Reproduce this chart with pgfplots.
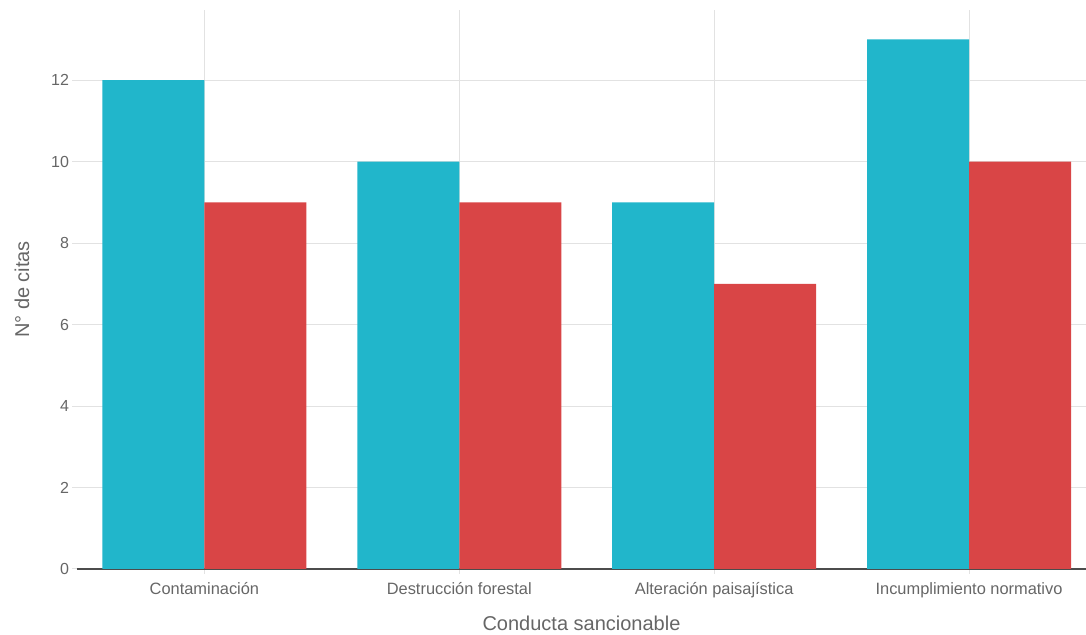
\documentclass[border=0pt]{standalone}
\usepackage{fontspec}
\setmainfont{Liberation Sans}
\usepackage{pgfplots}
\pgfplotsset{compat=1.18}
\definecolor{teal1}{HTML}{21B6CB}
\definecolor{red1}{HTML}{D94546}
\definecolor{txt}{HTML}{666666}
\definecolor{gridc}{HTML}{E2E2E2}
\begin{document}
\begin{tikzpicture}
\begin{axis}[
  name=ax,
  scale only axis,
  width=504.5pt, height=279.5pt,
  ybar=0pt, bar width=51pt,
  xmin=-0.5, xmax=3.459,
  ymin=0, ymax=13.72,
  xtick=data,
  xticklabels={Contaminación,Destrucción forestal,Alteración paisajística,Incumplimiento normativo},
  ytick={0,2,4,6,8,10,12},
  grid=major,
  major grid style={gridc, line width=0.5pt},
  axis x line*=bottom, axis y line*=left,
  x axis line style={-, draw=black!70, line width=0.6pt},
  y axis line style={draw=none},
  tick align=outside,
  major tick length=2.5pt,
  tick style={gridc, line width=0.5pt},
  /pgf/number format/assume math mode=true,
  ticklabel style={font=\fontsize{8}{9}\selectfont, text=txt},
  yticklabel style={xshift=2pt},
  xticklabel style={font=\fontsize{8.2}{9}\selectfont, text height=1.6ex, text depth=0.4ex, yshift=1.5pt},
  xlabel={Conducta sancionable},
  ylabel={N° de citas},
  label style={font=\fontsize{10}{12}\selectfont, text=txt},
  xlabel style={yshift=-1.5pt},
  ylabel style={yshift=4pt},
]
\addplot[fill=teal1, draw=none] coordinates {(0,12) (1,10) (2,9) (3,13)};
\addplot[fill=red1, draw=none] coordinates {(0,9) (1,9) (2,7) (3,10)};
\end{axis}
\pgfresetboundingbox
\path[use as bounding box] ([shift={(-38.5pt,-33pt)}]ax.south west) rectangle ([shift={(0pt,5pt)}]ax.north east);
\end{tikzpicture}
\end{document}
